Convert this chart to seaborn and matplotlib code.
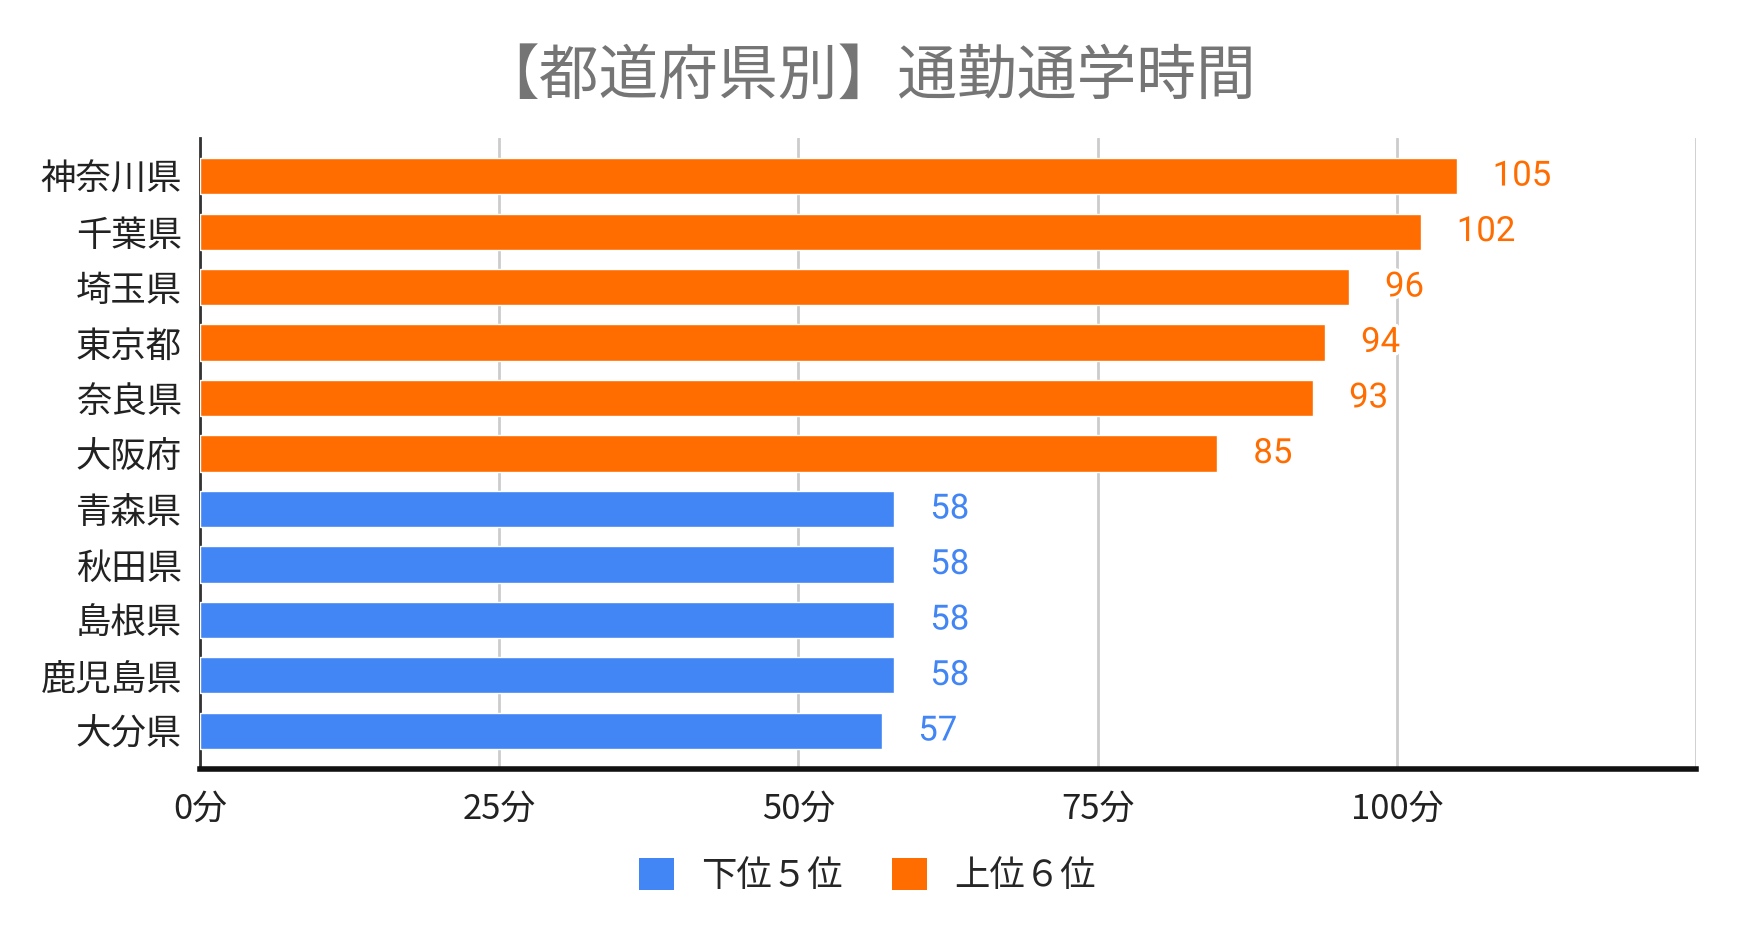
import matplotlib
matplotlib.use("Agg")
import matplotlib.pyplot as plt
import matplotlib.patheffects as pe
from matplotlib.patches import Patch
import seaborn as sns
import pandas as pd

# data
prefectures = ["神奈川県", "千葉県", "埼玉県", "東京都", "奈良県", "大阪府",
               "青森県", "秋田県", "島根県", "鹿児島県", "大分県"]
minutes = [105, 102, 96, 94, 93, 85, 58, 58, 58, 58, 57]
groups = ["上位６位"] * 6 + ["下位５位"] * 5
group_order = ["下位５位", "上位６位"]
group_colors = {"下位５位": "#4285F4", "上位６位": "#FF6D01"}
x_ticks = [0, 25, 50, 75, 100, 125]
x_tick_labels = ["0分", "25分", "50分", "75分", "100分", ""]

df = pd.DataFrame({"pref": prefectures, "minutes": minutes, "group": groups})

sns.set_theme(style="white")
plt.rcParams["font.family"] = ["Noto Sans CJK JP", "DejaVu Sans"]

fig = plt.figure(figsize=(17.38, 9.34), dpi=100)
ax = fig.add_axes([0.1151, 0.1767, 0.9758 - 0.1151, 0.8522 - 0.1767])

sns.barplot(data=df, y="pref", x="minutes", hue="group", order=prefectures,
            hue_order=group_order, palette=group_colors, dodge=False,
            width=0.65, saturation=1, legend=False, ax=ax, zorder=3)

ax.set_xlim(0, 125)
ax.set_ylim(len(prefectures) - 1 + 0.685, -0.685)
ax.set_xticks(x_ticks)
ax.set_xticklabels(x_tick_labels)
ax.set_xlabel("")
ax.set_ylabel("")
ax.xaxis.grid(True, color="#cccccc", linewidth=2, zorder=0)
ax.yaxis.grid(False)
ax.set_axisbelow(True)

for s in ["top", "right"]:
    ax.spines[s].set_visible(False)
ax.spines["left"].set_color("#333333")
ax.spines["left"].set_linewidth(2)
ax.spines["bottom"].set_color("#111111")
ax.spines["bottom"].set_linewidth(4)

ax.tick_params(axis="y", length=0, pad=13, labelsize=25.5, labelcolor="#222222")
ax.tick_params(axis="x", length=0, pad=16, labelsize=25, labelcolor="#222222")

# value labels
for i, (v, g) in enumerate(zip(minutes, groups)):
    ax.annotate(str(v), xy=(v, i), xytext=(26, 0), textcoords="offset points",
                ha="left", va="center", fontsize=25, color=group_colors[g],
                family=["Roboto", "DejaVu Sans"], zorder=4,
                path_effects=[pe.withStroke(linewidth=5, foreground="white")])

fig.text(0.499, 0.917, "【都道府県別】通勤通学時間", ha="center", va="center",
         fontsize=43, color="#757575")

handles = [Patch(facecolor=group_colors[g], edgecolor="none") for g in group_order]
fig.legend(handles, group_order, loc="center", bbox_to_anchor=(0.499, 0.062),
           ncol=2, frameon=False, fontsize=25.5, handlelength=1, handleheight=1,
           handletextpad=0.75, columnspacing=1.4)

fig.savefig("out.png", dpi=100)
